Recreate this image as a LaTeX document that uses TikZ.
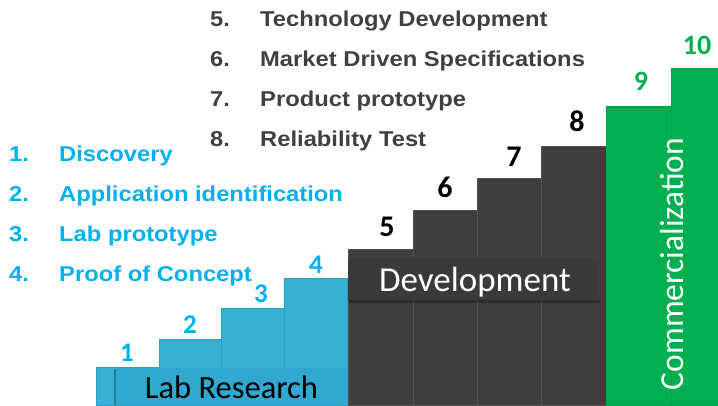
\documentclass[tikz,border=0pt]{standalone}
\usepackage{fontspec}
\setmainfont{Carlito}
\newfontfamily\listfont[FakeStretch=1.105]{Liberation Sans Bold}
\definecolor{lblue}{HTML}{00B0F0}
\definecolor{barblue}{HTML}{36B0D5}
\definecolor{boxblue}{HTML}{30A8CF}
\definecolor{dgray}{HTML}{404040}
\definecolor{bargray}{HTML}{3E3E3E}
\definecolor{boxgray}{HTML}{3A3A3A}
\definecolor{grn}{HTML}{00B050}
\tikzset{
  bluebar/.style={fill=barblue, draw=barblue!90!black, line width=0.4pt},
  graybar/.style={fill=bargray, draw=black!68, line width=0.4pt},
  greenbar/.style={fill=grn, draw=grn!92!black, line width=0.4pt},
  numlbl/.style={inner sep=0pt, font=\fontsize{27}{30}\bfseries\selectfont},
  listitem/.style={inner sep=0pt, anchor=base west, font=\listfont\fontsize{21.5}{24}\selectfont},
  bigtxt/.style={inner sep=0pt, anchor=base},
  shade box/.style={fill=black, opacity=0.3}
}
\begin{document}
\begin{tikzpicture}[x=1pt,y=-1pt]
\useasboundingbox (0,0) rectangle (718,405);
% blue bars
\path[bluebar] (96,367) rectangle (159,405);
\path[bluebar] (159,339) rectangle (221,405);
\path[bluebar] (221,308) rectangle (284,405);
\path[bluebar] (284,278) rectangle (347,405);
% lab research box
\path[shade box] (114,369) rectangle (116,405);
\path[fill=boxblue] (116,368) rectangle (346,405);
\node[bigtxt, font=\fontsize{32.5}{35}\selectfont, text=black] (lab) at (231.5,398) {Lab Research};
% gray bars
\path[graybar] (348,249) rectangle (413,405);
\path[graybar] (413,210) rectangle (477,405);
\path[graybar] (477,178) rectangle (541,405);
\path[graybar] (541,146) rectangle (606,405);
% development box
\path[shade box] (349,300) rectangle (600,303);
\path[fill=boxgray] (348,258) rectangle (599,300);
\node[bigtxt, font=\fontsize{35}{38}\selectfont, text=white] (dev) at (475,291) {Development};
% green bars
\path[greenbar] (606,106) rectangle (671,405);
\path[greenbar] (671,68) rectangle (718,405);
\node[bigtxt, rotate=90, font=\fontsize{33.5}{36}\selectfont, text=white] (com) at (683,264) {Commercialization};
% numbers
\node[numlbl, text=lblue] (n1) at (127,353) {1};
\node[numlbl, text=lblue] (n2) at (190,325) {2};
\node[numlbl, text=lblue] (n3) at (261,294) {3};
\node[numlbl, text=lblue] (n4) at (316,265) {4};
\node[numlbl, font=\fontsize{30}{33}\bfseries\selectfont, text=black] (n5) at (387,227) {5};
\node[numlbl, font=\fontsize{30}{33}\bfseries\selectfont, text=black] (n6) at (445,187) {6};
\node[numlbl, font=\fontsize{30}{33}\bfseries\selectfont, text=black] (n7) at (514,157) {7};
\node[numlbl, font=\fontsize{30}{33}\bfseries\selectfont, text=black] (n8) at (577,121) {8};
\node[numlbl, font=\fontsize{28}{31}\bfseries\selectfont, text=grn] (n9) at (641,81) {9};
\node[numlbl, font=\fontsize{28}{31}\bfseries\selectfont, text=grn] (n10) at (697,45) {10};
% left list
\node[listitem, text=lblue] (l1n) at (9,161) {1.};
\node[listitem, text=lblue] (l1) at (59,161) {Discovery};
\node[listitem, text=lblue] (l2n) at (9,201) {2.};
\node[listitem, text=lblue] (l2) at (59,201) {Application identification};
\node[listitem, text=lblue] (l3n) at (9,241) {3.};
\node[listitem, text=lblue] (l3) at (59,241) {Lab prototype};
\node[listitem, text=lblue] (l4n) at (9,281) {4.};
\node[listitem, text=lblue] (l4) at (59,281) {Proof of Concept};
% top list
\node[listitem, text=dgray] (t5n) at (210,26) {5.};
\node[listitem, text=dgray] (t5) at (260,26) {Technology Development};
\node[listitem, text=dgray] (t6n) at (210,66) {6.};
\node[listitem, text=dgray] (t6) at (260,66) {Market Driven Specifications};
\node[listitem, text=dgray] (t7n) at (210,106) {7.};
\node[listitem, text=dgray] (t7) at (260,106) {Product prototype};
\node[listitem, text=dgray] (t8n) at (210,146) {8.};
\node[listitem, text=dgray] (t8) at (260,146) {Reliability Test};
\end{tikzpicture}
\end{document}
